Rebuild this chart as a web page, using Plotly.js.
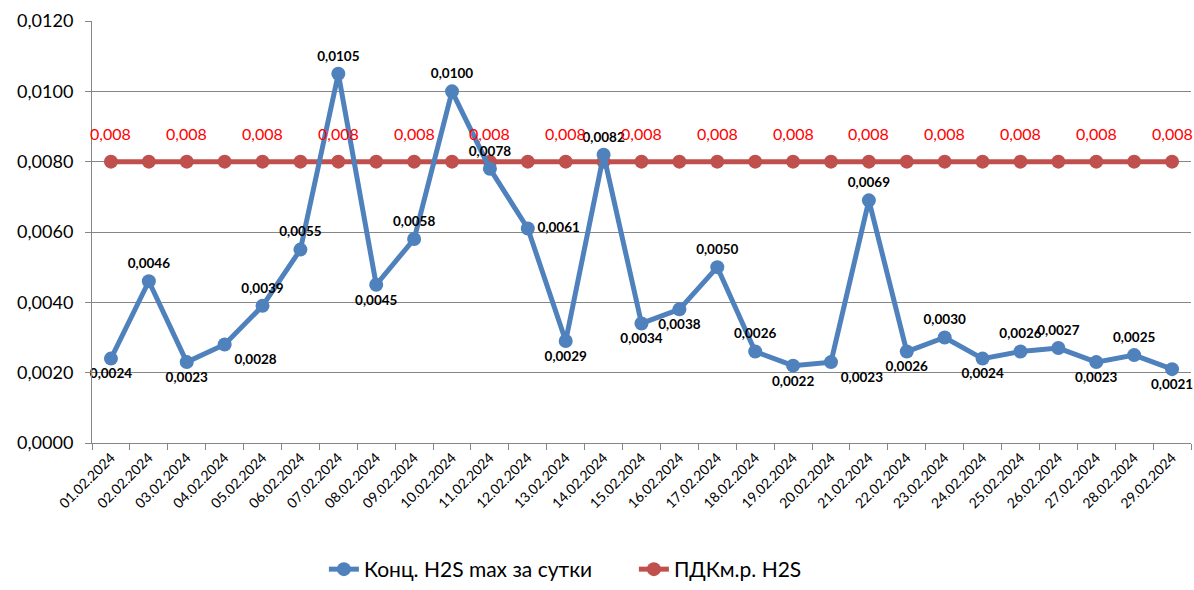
<!DOCTYPE html>
<html><head><meta charset="utf-8">
<script src="https://cdn.plot.ly/plotly-3.0.1.min.js"></script>
<style>html,body{margin:0;padding:0;background:#fff}#c{width:1194px;height:590px}</style>
</head><body><div id="c"></div>
<script>
const dates = ["01.02.2024","02.02.2024","03.02.2024","04.02.2024","05.02.2024","06.02.2024","07.02.2024","08.02.2024","09.02.2024","10.02.2024","11.02.2024","12.02.2024","13.02.2024","14.02.2024","15.02.2024","16.02.2024","17.02.2024","18.02.2024","19.02.2024","20.02.2024","21.02.2024","22.02.2024","23.02.2024","24.02.2024","25.02.2024","26.02.2024","27.02.2024","28.02.2024","29.02.2024"];
const h2s = [0.0024,0.0046,0.0023,0.0028,0.0039,0.0055,0.0105,0.0045,0.0058,0.0100,0.0078,0.0061,0.0029,0.0082,0.0034,0.0038,0.0050,0.0026,0.0022,0.0023,0.0069,0.0026,0.0030,0.0024,0.0026,0.0027,0.0023,0.0025,0.0021];
const pdk = [0.008,0.008,0.008,0.008,0.008,0.008,0.008,0.008,0.008,0.008,0.008,0.008,0.008,0.008,0.008,0.008,0.008,0.008,0.008,0.008,0.008,0.008,0.008,0.008,0.008,0.008,0.008,0.008,0.008];
const h2sLabelPos = ["bottom center","top center","bottom center","bottom right","top center","top center","top center","bottom center","top center","top center","top center","middle right","bottom center","top center","bottom center","bottom center","top center","top center","bottom center","bottom right","top center","bottom center","top center","bottom center","top center","top center","bottom center","top center","bottom center"];
const yTicks = [0,0.002,0.004,0.006,0.008,0.010,0.012];

const fmt4 = v => v.toFixed(4).replace('.', ',');
const fmt3 = v => v.toFixed(3).replace('.', ',');

const font = "Lato, 'Open Sans', sans-serif";

const traces = [
  {x: dates, y: pdk, type:'scatter', mode:'lines+markers', name:'ПДКм.р. H2S',
   line:{color:'#C0504D', width:5}, marker:{color:'#C0504D', size:14}, cliponaxis:false},
  {x: dates, y: h2s, type:'scatter', mode:'lines+markers+text', name:'Конц. H2S max за сутки',
   line:{color:'#4F81BD', width:5}, marker:{color:'#4F81BD', size:14},
   text: h2s.map(fmt4), textposition: h2sLabelPos,
   textfont:{family:font, size:13.5, color:'#000', weight:'bold'}, cliponaxis:false}
];

const annotations = pdk.map((v,i)=> i%2===0 ? {x: dates[i], y: v, text: fmt3(v), showarrow:false,
  yshift: 28, font:{family:font, size:16, color:'#FF0000'}} : null).filter(a=>a);

const layout = {
  width:1194, height:590,
  margin:{l:92, r:3, t:21, b:147, autoexpand:false},
  paper_bgcolor:'#fff', plot_bgcolor:'#fff',
  separators:', ',
  showlegend:true,
  legend:{orientation:'h', x:0.211, xanchor:'left', yref:'container', y:0.0, yanchor:'bottom',
    entrywidth:265, entrywidthmode:'pixels',
    font:{family:font, size:21, color:'#000'}, traceorder:'reversed'},
  xaxis:{type:'category', showgrid:false, showline:true, linecolor:'#868686', linewidth:1,
    ticks:'outside', tickson:'boundaries', ticklen:6, tickcolor:'#868686', tickangle:-45,
    tickfont:{family:font, size:14, color:'#000'}, range:[-0.5, 28.5], fixedrange:true},
  yaxis:{range:[0,0.012], tickvals:yTicks, ticktext:yTicks.map(fmt4), showgrid:true, gridcolor:'#868686', gridwidth:1,
    showline:true, linecolor:'#868686', linewidth:1, ticks:'outside', ticklen:6, tickcolor:'#868686',
    ticklabelstandoff:8,
    tickfont:{family:font, size:18, color:'#000'}, zeroline:false},
  annotations: annotations
};
Plotly.newPlot('c', traces, layout, {displayModeBar:false, staticPlot:true});
</script></body></html>
